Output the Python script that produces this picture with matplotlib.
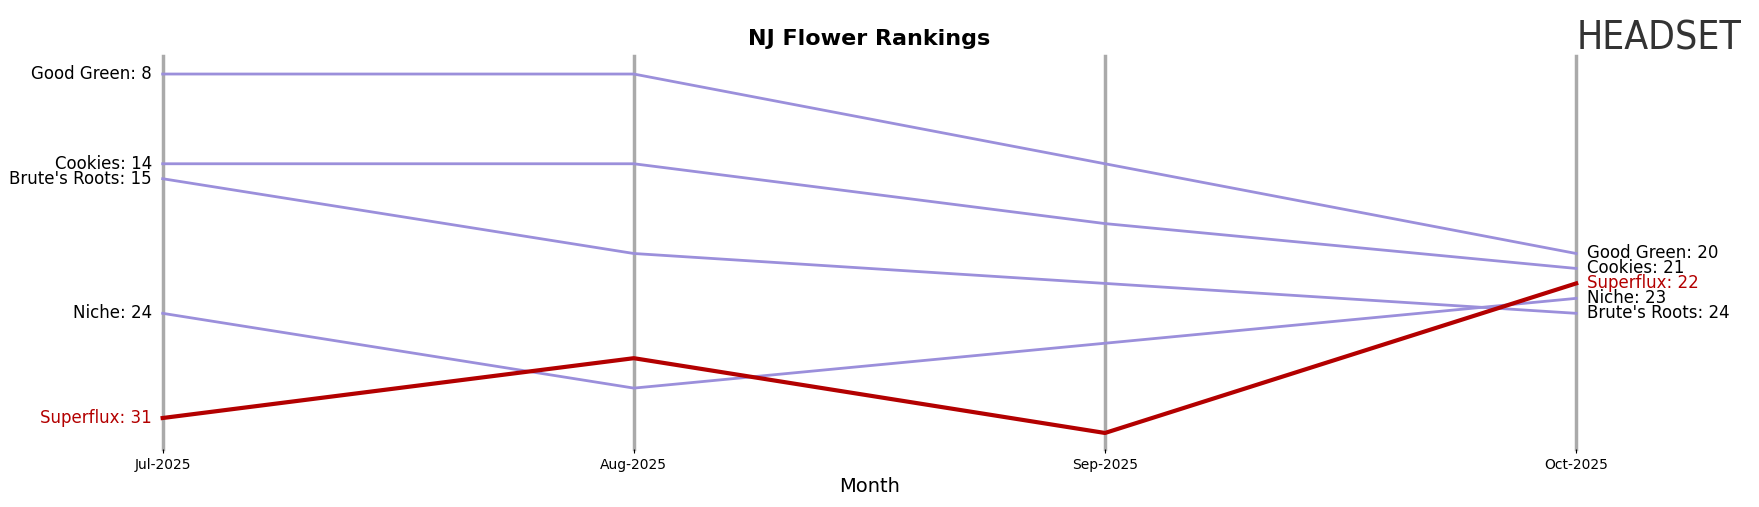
import matplotlib
matplotlib.use("Agg")
import matplotlib.pyplot as plt

months = ["Jul-2025", "Aug-2025", "Sep-2025", "Oct-2025"]
good_green = [8, 8, 14, 20]
cookies = [14, 14, 18, 21]
brutes = [15, 20, 22, 24]
niche = [24, 29, 26, 23]
superflux = [31, 27, 32, 22]

series = [("Good Green", good_green), ("Cookies", cookies), ("Brute's Roots", brutes),
          ("Niche", niche), ("Superflux", superflux)]

W, H = 1568, 452
fig = plt.figure(figsize=(17.59, 5.07), dpi=100)
ax = fig.add_axes([145/W, 1-400/H, 1260/W, 350/H])
x = list(range(len(months)))
for i in x:
    ax.axvline(i, color="#aaaaaa", lw=2.5, zorder=0, clip_on=False)
for name, vals in series:
    if name == "Superflux":
        ax.plot(x, vals, color="#b30000", lw=3, zorder=3, clip_on=False)
    else:
        ax.plot(x, vals, color="#9b8fdb", lw=2, zorder=2, clip_on=False)
    c = "#b30000" if name == "Superflux" else "black"
    ax.text(-0.023, vals[0], f"{name}: {vals[0]}", ha="right", va="center", fontsize=12, color=c)
    ax.text(3.023, vals[-1], f"{name}: {vals[-1]}", ha="left", va="center", fontsize=12, color=c)
ax.set_xlim(0, 3)
ax.set_ylim(33.05, 6.8)
ax.set_yticks([])
ax.set_xticks(x)
ax.set_xticklabels(months, fontsize=10)
ax.tick_params(axis="x", length=3)
for s in ax.spines.values():
    s.set_visible(False)
ax.set_xlabel("Month", fontsize=14)
ax.set_title("NJ Flower Rankings", fontsize=16, fontweight="bold", pad=8)
fig.text(1405/W, 1-34/H, "HEADSET", fontsize=28, color="#333333", ha="left", va="center",
         fontfamily="DejaVu Sans", fontstretch="condensed")
fig.savefig("out.png", dpi=100)
